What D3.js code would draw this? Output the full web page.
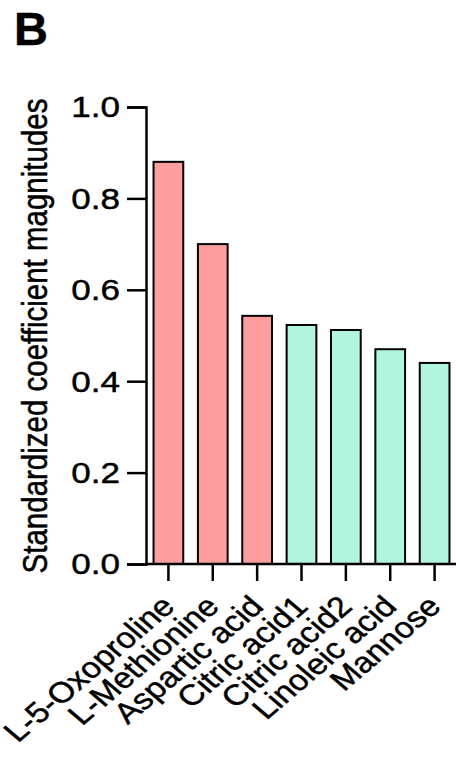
<!DOCTYPE html>
<html>
<head>
<meta charset="utf-8">
<script src="https://cdn.jsdelivr.net/npm/d3@7"></script>
<style>
  body{margin:0;background:#fff;}
  text{font-family:"Liberation Sans",Arial,sans-serif;fill:#000;stroke:#000;stroke-width:0.45px;}
</style>
</head>
<body>
<div id="chart"></div>
<script>
const metabolites=["L-5-Oxoproline","L-Methionine","Aspartic acid","Citric acid1","Citric acid2","Linoleic acid","Mannose"];
const magnitudes=[0.88,0.70,0.543,0.523,0.512,0.470,0.440];
const groups=["up","up","up","down","down","down","down"];
const yTicks=[0,0.2,0.4,0.6,0.8,1.0];

const w=456;
const h=760;
const sx=1.17; // the picture is a bit wider than tall

const colors={up:"#FF9E9E",down:"#B2F5DE"};

const svg=d3.select("#chart").append("svg").attr("width",w).attr("height",h);

const x=d3.scaleBand().domain(metabolites).range([146,457]).paddingInner(0.33).paddingOuter(0.17);
const y=d3.scaleLinear().domain([0,1]).range([564,107]);

// bars
svg.selectAll("rect.bar")
  .data(metabolites)
  .enter()
  .append("rect")
  .attr("class","bar")
  .attr("x",d=>x(d))
  .attr("width",x.bandwidth())
  .attr("y",(d,i)=>y(magnitudes[i]))
  .attr("height",(d,i)=>y(0)-y(magnitudes[i]))
  .attr("fill",(d,i)=>colors[groups[i]])
  .attr("stroke","#000")
  .attr("stroke-width",2);

// y axis
const yAxis=svg.append("g")
  .attr("transform","translate(146,0)")
  .call(d3.axisLeft(y).tickValues(yTicks).tickFormat(d3.format(".1f")).tickSize(19).tickSizeOuter(19));
yAxis.selectAll("path,line").attr("stroke","#000").attr("stroke-width",2.5);
yAxis.selectAll("text")
  .attr("x",null)
  .attr("transform","translate(-26,0) scale("+sx+",1)")
  .attr("dy","0.33em")
  .style("font-size","30px");

// x axis
const xAxis=svg.append("g")
  .attr("transform","translate(0,564)")
  .call(d3.axisBottom(x).tickSize(17).tickSizeOuter(0));
xAxis.select("path.domain").attr("d","M146,0H456");
xAxis.selectAll("path,line").attr("stroke","#000").attr("stroke-width",2.5);
xAxis.selectAll("text")
  .attr("y",null).attr("dy",null)
  .attr("text-anchor","end")
  .attr("transform","translate(8,44) scale("+sx+",1) rotate(-45)")
  .style("font-size","29px");

// y title
svg.append("text")
  .attr("transform","translate(47,336) scale("+sx+",1) rotate(-90)")
  .attr("text-anchor","middle")
  .style("font-size","29.5px")
  .text("Standardized coefficient magnitudes");

// panel letter
svg.append("text")
  .attr("x",14).attr("y",45)
  .style("font-size","47px")
  .style("font-weight","bold")
  .attr("textLength",31)
  .text("B");
</script>
</body>
</html>
